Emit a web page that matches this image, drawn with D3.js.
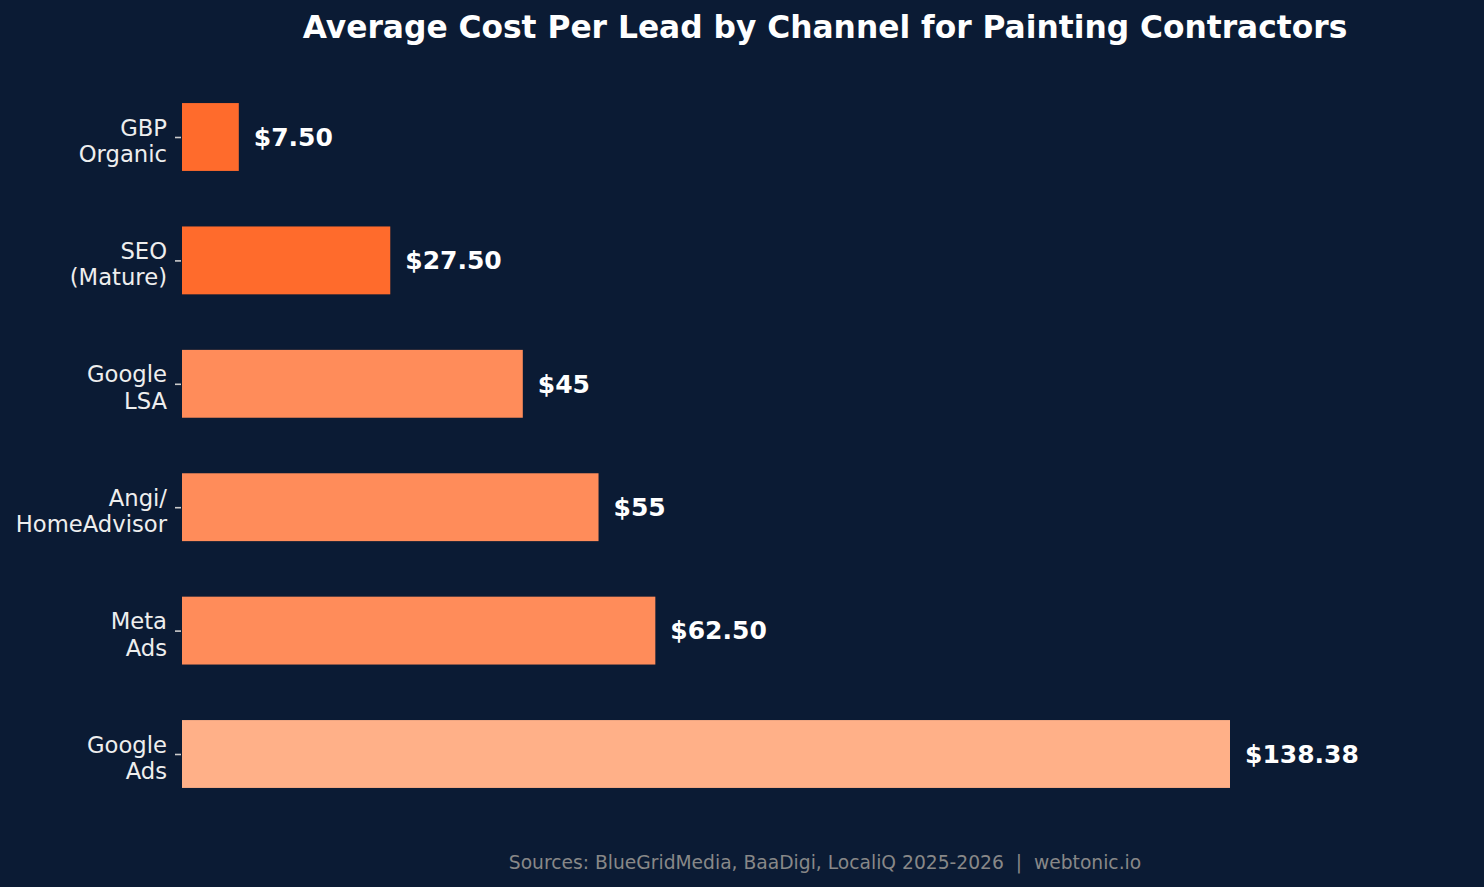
<!DOCTYPE html>
<html>
<head>
<meta charset="utf-8">
<script src="https://cdn.jsdelivr.net/npm/d3@7"></script>
<style>
  body { margin: 0; background: #0b1b34; }
  svg { display: block; font-family: "DejaVu Sans", sans-serif; }
</style>
</head>
<body>
<div id="chart"></div>
<script>
// data
var channels = ["GBP\nOrganic", "SEO\n(Mature)", "Google\nLSA", "Angi/\nHomeAdvisor", "Meta\nAds", "Google\nAds"];
var costs = [7.5, 27.5, 45, 55, 62.5, 138.38];
var valueLabels = ["$7.50", "$27.50", "$45", "$55", "$62.50", "$138.38"];
var barColors = ["#ff6b2c", "#ff6b2c", "#ff8c5a", "#ff8c5a", "#ff8c5a", "#ffb088"];

var width = 1484, height = 887;

var svg = d3.select("#chart").append("svg")
    .attr("width", width)
    .attr("height", height);

svg.append("rect")
    .attr("width", width)
    .attr("height", height)
    .attr("fill", "#0b1b34");

var data = channels.map(function(c, i) {
    return {name: c, value: costs[i], label: valueLabels[i], color: barColors[i]};
});

var x = d3.scaleLinear()
    .domain([0, 138.38])
    .range([182, 1230]);

var y = d3.scalePoint()
    .domain(channels)
    .range([137, 754]);

var barH = y.step() * 0.55;

svg.selectAll(".bar")
    .data(data)
    .enter().append("rect")
    .attr("class", "bar")
    .attr("x", x(0))
    .attr("y", function(d) { return y(d.name) - barH / 2; })
    .attr("width", function(d) { return x(d.value) - x(0); })
    .attr("height", barH)
    .attr("fill", function(d) { return d.color; });

svg.selectAll(".val")
    .data(data)
    .enter().append("text")
    .attr("class", "val")
    .attr("x", function(d) { return x(d.value) + 15; })
    .attr("y", function(d) { return y(d.name); })
    .attr("dy", "0.35em")
    .attr("fill", "#ffffff")
    .style("font-size", "25px")
    .style("font-weight", "bold")
    .text(function(d) { return d.label; });

// y axis
var yAxis = d3.axisLeft(y).tickSize(6).tickPadding(8).tickFormat("");
var yg = svg.append("g")
    .attr("class", "axis y-axis")
    .attr("transform", "translate(" + (x(0) - 1) + ",0)")
    .call(yAxis);
yg.attr("font-family", null);
yg.select(".domain").remove();
yg.selectAll(".tick line").attr("stroke", "#cccccc").attr("stroke-width", 1.6);

yg.selectAll(".tick").each(function(d) {
    var lines = d.split("\n");
    var t = d3.select(this).append("text")
        .attr("x", -14)
        .attr("fill", "#eeeeee")
        .attr("text-anchor", "end")
        .style("font-family", "'DejaVu Sans', sans-serif")
        .style("font-size", "22.7px");
    lines.forEach(function(l, i) {
        t.append("tspan")
            .attr("x", -14)
            .attr("y", (i - (lines.length - 1) / 2) * 26.5)
            .attr("dy", "0.5em")
            .text(l);
    });
});

svg.append("text")
    .attr("x", 825)
    .attr("y", 38)
    .attr("text-anchor", "middle")
    .attr("fill", "#ffffff")
    .style("font-size", "31.3px")
    .style("font-weight", "bold")
    .text("Average Cost Per Lead by Channel for Painting Contractors");

svg.append("text")
    .attr("x", 825)
    .attr("y", 869)
    .attr("text-anchor", "middle")
    .attr("fill", "#888888")
    .style("font-size", "18.7px")
    .attr("xml:space", "preserve")
    .text("Sources: BlueGridMedia, BaaDigi, LocaliQ 2025-2026  |  webtonic.io");
</script>
</body>
</html>
